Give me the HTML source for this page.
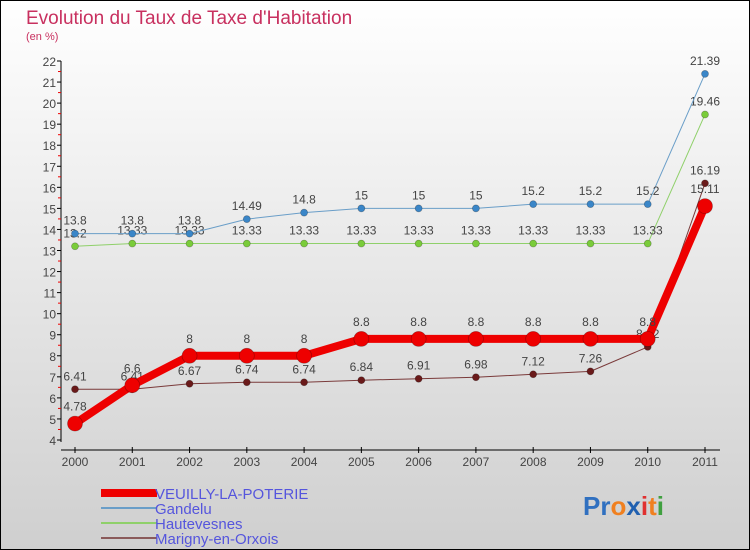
<!DOCTYPE html>
<html><head><meta charset="utf-8"><style>
html,body{margin:0;padding:0}
body{width:750px;height:550px;overflow:hidden;font-family:"Liberation Sans",sans-serif}
</style></head><body>
<svg id="c" width="750" height="550" xmlns="http://www.w3.org/2000/svg" style="display:block">
<defs><linearGradient id="bg" x1="0" y1="0" x2="0" y2="1"><stop offset="0" stop-color="#ffffff"/><stop offset="1" stop-color="#cfcfcf"/></linearGradient></defs>
<rect x="0.5" y="0.5" width="749" height="549" fill="url(#bg)" stroke="#000"/>
<text x="26" y="24" font-size="19" fill="#c8305f">Evolution du Taux de Taxe d'Habitation</text>
<text x="26" y="40" font-size="11" fill="#c8305f">(en %)</text>
<g id="axes"></g><g id="series"></g>
<g font-size="15" fill="#5555dd">
<rect x="101" y="489" width="56" height="8" fill="#e00"/>
<text x="155" y="499">VEUILLY-LA-POTERIE</text>
<rect x="101" y="507" width="56" height="2" fill="#6a9ec8"/>
<text x="155" y="514">Gandelu</text>
<rect x="101" y="522" width="56" height="2" fill="#8fd06a"/>
<text x="155" y="529">Hautevesnes</text>
<rect x="101" y="537" width="56" height="2" fill="#8a5a5a"/>
<text x="155" y="544">Marigny-en-Orxois</text>
</g>
<text x="583" y="515" font-size="26" font-weight="bold" font-family="'Liberation Sans',sans-serif"><tspan fill="#3070c0">Pr</tspan><tspan fill="#f08020">o</tspan><tspan fill="#2060b0">x</tspan><tspan fill="#e03030">i</tspan><tspan fill="#f08020">t</tspan><tspan fill="#40a040">i</tspan></text>
</svg>
<script>
const years=["2000","2001","2002","2003","2004","2005","2006","2007","2008","2009","2010","2011"];
const yTicks=[4,5,6,7,8,9,10,11,12,13,14,15,16,17,18,19,20,21,22];
const veuilly=[4.78,6.6,8,8,8,8.8,8.8,8.8,8.8,8.8,8.8,15.11];
const gandelu=[13.8,13.8,13.8,14.49,14.8,15,15,15,15.2,15.2,15.2,21.39];
const hautevesnes=[13.2,13.33,13.33,13.33,13.33,13.33,13.33,13.33,13.33,13.33,13.33,19.46];
const marigny=[6.41,6.41,6.67,6.74,6.74,6.84,6.91,6.98,7.12,7.26,8.42,16.19];
const NS="http://www.w3.org/2000/svg";
const x=i=>75+i*(630/11);
const y=v=>440-(v-4)*(379/18);
function mk(t,a,p){const e=document.createElementNS(NS,t);for(const k in a)e.setAttribute(k,a[k]);p.appendChild(e);return e;}
const ax=document.getElementById('axes'),se=document.getElementById('series');
const ya=mk('line',{x1:61,y1:y(22),x2:61,y2:y(4)+2,stroke:'#000'},ax);


yTicks.forEach(v=>{
 mk('line',{x1:57,y1:y(v),x2:61,y2:y(v),stroke:'#000'},ax);
 if(v<22) mk('line',{x1:58,y1:y(v+0.5),x2:61,y2:y(v+0.5),stroke:'#e00'},ax);
 const t=mk('text',{x:56,y:y(v)+5,'font-size':12,fill:'#444','text-anchor':'end'},ax);
 t.textContent=v;
 
 
});
const xa=mk('line',{x1:61,y1:450,x2:720,y2:450,stroke:'#000'},ax);


years.forEach((yr,i)=>{
 mk('line',{x1:x(i),y1:447,x2:x(i),y2:453,stroke:'#000'},ax);
 const t=mk('text',{x:x(i),y:466,'font-size':12,fill:'#444','text-anchor':'middle'},ax);
 t.textContent=yr;
 
 
});
function draw(name,data,color,dot,w,r,lab){
 const g=mk('g',{},se);
 
 
 const pl=mk('polyline',{points:data.map((v,i)=>x(i)+','+y(v)).join(' '),fill:'none',stroke:color,'stroke-width':w,'stroke-linejoin':'round'},g);
 
 
 data.forEach((v,i)=>{
  const c=mk('circle',{cx:x(i),cy:y(v),r:r,fill:dot,stroke:'rgba(0,0,0,0.3)','stroke-width':0.7},g);
  
  
  const t=mk('text',{x:x(i),y:y(v)-9-(r>5?4:0),'font-size':12,fill:'#444','text-anchor':'middle'},g);
  t.textContent=String(v);
  
  
 });
}
draw('hautevesnes',hautevesnes,'#8fd06a','#7acc3a',1,3.5);
draw('gandelu',gandelu,'#6a9ec8','#3a86c8',1,3.5);
draw('marigny',marigny,'#7a3a3a','#6a1a1a',1,3.5);
draw('veuilly',veuilly,'#ee0000','#ee0000',8,7.5);
</script>
</body></html>
